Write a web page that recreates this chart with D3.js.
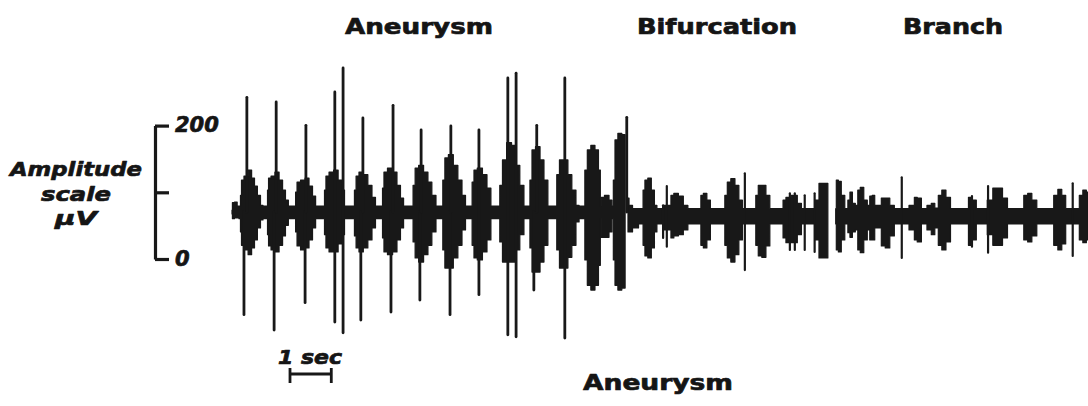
<!DOCTYPE html>
<html>
<head>
<meta charset="utf-8">
<script src="https://cdn.jsdelivr.net/npm/d3@7/dist/d3.min.js"></script>
<style>
  html, body { margin: 0; padding: 0; background: #ffffff; }
  svg { display: block; }
  text { font-family: "DejaVu Sans", sans-serif; font-weight: bold; fill: #151515;
         stroke: #151515; stroke-width: 0.7px; stroke-linejoin: round; }
</style>
</head>
<body>
<svg id="chart" width="1088" height="406"></svg>
<script>
// Recording site labels along the trace
const siteNames = ["Aneurysm", "Bifurcation", "Branch"];
const lowerSiteName = "Aneurysm";

// Envelope of the sound recording over each site: time (s), upper and lower excursion (µV)
const aneurysmTime  = [0.00,0.02,0.10,0.15,0.19, 0.22,0.24,0.34,0.44,0.51,0.58,0.65,0.73,0.77,
  0.85,0.87,0.90,0.99,1.09,1.19,1.26,1.33,1.40, 1.53,1.55,1.60,1.72,1.82,1.91,1.99,2.06,
  2.23,2.25,2.30,2.40,2.52,2.62,2.69,2.76, 2.95,2.98,3.03,3.12,3.24,3.34,3.44,3.51,
  3.63,3.66,3.70,3.83,3.95,4.04,4.12,4.19, 4.36,4.41,4.46,4.58,4.70,4.79,4.89,4.99,
  5.08,5.13,5.18,5.30,5.42,5.52,5.62,5.69, 5.79,5.84,5.88,6.00,6.13,6.22,6.32,
  6.46,6.51,6.59,6.71,6.83,6.92,7.02,7.12, 7.19,7.24,7.29,7.41,7.51,7.60,7.70,
  7.84,7.89,7.97,8.09,8.18,8.28,8.38,8.43, 8.52,8.57,8.64,8.74,8.84,8.91,8.93,
  8.96,9.08,9.18,9.22, 9.25,9.30,9.39,9.49,9.52];
const aneurysmUpper = [3,14,15,9,9, 25,48,54,63,51,39,25,10,9,
  9,33,51,54,60,48,33,18,9, 9,30,45,48,51,39,24,9,
  9,33,54,60,63,48,33,9, 9,33,54,60,56,40,22,9,
  9,36,60,66,60,40,21,9, 9,40,66,70,60,45,25,9,
  9,48,81,86,70,48,25,9, 9,45,63,66,56,36,9,
  9,40,78,104,100,70,40,9, 9,48,93,98,78,48,9,
  9,56,78,78,56,33,10,9, 9,63,93,100,93,63,9,
  22,25,18,9, 48,108,118,116,116];
const aneurysmLower = [-3,-10,-9,-9,-10, -30,-50,-57,-64,-54,-42,-24,-12,-10,
  -10,-34,-51,-57,-60,-50,-36,-20,-10, -10,-30,-51,-57,-54,-42,-24,-10,
  -10,-34,-54,-60,-60,-48,-34,-10, -10,-36,-54,-60,-54,-42,-24,-10,
  -10,-39,-60,-64,-60,-42,-24,-10, -10,-45,-69,-75,-64,-50,-30,-10,
  -10,-57,-84,-84,-69,-50,-27,-10, -10,-50,-69,-72,-60,-42,-10,
  -10,-45,-75,-75,-75,-57,-34,-10, -10,-54,-90,-90,-75,-50,-10,
  -10,-57,-84,-84,-68,-50,-15,-10, -10,-72,-110,-117,-110,-80,-10,
  -38,-38,-30,-10, -72,-110,-117,-114,-114];

const bifurcationTime  = [9.59,9.64,9.76,9.93, 9.98,10.02,10.12,10.19,10.27,10.31,
  10.61,10.65,10.75,10.87,10.99,11.09, 11.33,11.38,11.45,11.55,11.62,
  11.91,11.96,12.03,12.13,12.23,12.32,12.40, 12.66,12.71,12.78,12.88,12.98,13.07,
  13.32,13.37,13.46,13.63,13.75,13.83, 14.04,14.19,14.24,14.38,14.43];
const bifurcationUpper = [21,10,5,5, 33,48,51,33,10,5,
  10,25,28,24,10,5, 5,25,28,18,5,
  5,25,45,50,40,18,5, 5,25,40,40,25,5,
  5,18,22,25,13,5, 5,18,43,43,43];
const bifurcationLower = [-30,-30,-24,-18, -50,-66,-69,-54,-30,-18,
  -27,-39,-36,-34,-27,-18, -18,-50,-54,-42,-18,
  -18,-50,-69,-75,-64,-42,-18, -18,-50,-66,-68,-51,-18,
  -18,-39,-46,-46,-34,-18, -18,-42,-69,-69,-69];

const branchTime  = [14.62,14.65,14.72,14.79,14.89, 14.94,14.99,15.06,15.13,15.18,15.25,15.35,15.42,
  15.47,15.54,15.59,15.69,15.76,15.88,15.98,16.10, 16.30,16.49,16.56,16.63,16.76,
  16.90,16.97,17.07,17.14,17.24,17.34,17.46, 17.80,17.87,17.99,18.06,
  18.23,18.35,18.50,18.60,18.72,18.84, 19.13,19.22,19.32,19.42,19.56,
  19.85,19.95,20.05,20.14,20.24, 20.48,20.56,20.65,20.73];
const branchUpper = [5,48,46,25,5, 18,30,13,10,33,37,18,10,
  24,25,10,10,21,21,10,5, 5,10,22,21,5,
  10,13,6,25,33,22,5, 5,22,18,5,
  5,18,36,36,21,5, 5,25,28,18,5,
  5,25,34,25,5, 5,25,33,30];
const branchLower = [-18,-57,-60,-42,-18, -31,-38,-30,-27,-57,-61,-42,-27,
  -42,-42,-24,-24,-51,-54,-36,-18, -18,-27,-42,-45,-18,
  -27,-34,-24,-50,-57,-45,-18, -18,-50,-42,-18,
  -18,-34,-50,-50,-39,-18, -18,-42,-45,-36,-18,
  -18,-50,-57,-48,-18, -18,-42,-46,-42];

// Single sharp transients: time (s), upper and lower excursion (µV)
const spikeTime  = [0.29,0.36,1.02,1.07,1.77,1.79,2.49,2.69,3.12,3.17,3.85,3.90,4.55,4.58,
  5.28,5.30,5.98,6.68,6.88,7.31,7.38,8.06,9.56,
  10.44,10.53,12.42,13.51,13.63,13.87,14.11,
  16.22,17.92,18.31,20.36];
const spikeUpper = [0,172,0,165,0,130,180,216,0,141,0,160,0,123,
  0,129,123,201,208,0,130,201,142,
  10,39,58,28,28,25,28,
  52,24,39,43];
const spikeLower = [-154,0,-177,0,-136,0,-165,-181,-162,0,-150,0,-132,0,
  -154,0,-124,-184,-187,-117,0,-189,0,
  -39,-52,-87,-57,-57,-57,-60,
  -69,-52,-61,-66];

// Calibration marks
const ampTicks = [0, 100, 200];
const ampTickLabels = ["0", "", "200"];
const ampLabelLines = ["Amplitude", "scale", "µV"];
const timeBarSeconds = 1;
const timeBarLabel = "1 sec";

const svg = d3.select("#chart");
const ink = "#181818";

const x = d3.scaleLinear().domain([0, 20.73]).range([232, 1088]);
const pxPerUV = 0.667;
const yTrace = d3.scaleLinear().domain([-100, 100]).range([212 + 100 * pxPerUV, 212 - 100 * pxPerUV]);
const yAmp = d3.scaleLinear().domain([0, 200]).range([259, 259 - 200 * pxPerUV]);

// Trace envelopes: stepped, like a dense oscillograph record
const pieces = [
  [aneurysmTime, aneurysmUpper, aneurysmLower],
  [bifurcationTime, bifurcationUpper, bifurcationLower],
  [branchTime, branchUpper, branchLower]
];
const area = d3.area()
  .x(d => x(d.t))
  .y0(d => yTrace(d.lo))
  .y1(d => yTrace(d.hi))
  .curve(d3.curveStep);

svg.append("g").attr("class", "trace")
  .selectAll("path")
  .data(pieces.map(([t, hi, lo]) => t.map((v, i) => ({ t: v, hi: hi[i], lo: lo[i] }))))
  .join("path")
  .attr("d", area)
  .attr("fill", ink)
  .attr("stroke", ink)
  .attr("stroke-width", 1.2)
  .attr("stroke-linejoin", "round");

// Transients
svg.append("g").attr("class", "spikes")
  .selectAll("line")
  .data(spikeTime.map((t, i) => ({ t, hi: spikeUpper[i], lo: spikeLower[i] })))
  .join("line")
  .attr("x1", d => x(d.t)).attr("x2", d => x(d.t))
  .attr("y1", d => yTrace(d.lo)).attr("y2", d => yTrace(d.hi))
  .attr("stroke", ink)
  .attr("stroke-width", d => (d.t < 9.6 ? 2.8 : 2.2))
  .attr("stroke-linecap", "round");

// Site labels
const topLabelPos = [[345, 148], [637, 160], [903, 100]];
svg.append("g").selectAll("text")
  .data(siteNames)
  .join("text")
  .attr("x", (d, i) => topLabelPos[i][0])
  .attr("y", 34)
  .attr("font-size", 21)
  .attr("textLength", (d, i) => topLabelPos[i][1])
  .attr("lengthAdjust", "spacingAndGlyphs")
  .text(d => d);

svg.append("text")
  .attr("x", 583).attr("y", 390)
  .attr("font-size", 21)
  .attr("textLength", 150)
  .attr("lengthAdjust", "spacingAndGlyphs")
  .text(lowerSiteName);

// Amplitude calibration bar
const ampAxis = d3.axisRight(yAmp)
  .tickValues(ampTicks)
  .tickFormat((d, i) => ampTickLabels[i])
  .tickSize(14)
  .tickSizeOuter(0)
  .tickPadding(6);
const ampG = svg.append("g").attr("transform", "translate(155,0)").call(ampAxis);
ampG.select(".domain").attr("stroke", ink).attr("stroke-width", 3.2);
ampG.selectAll(".tick line").attr("stroke", ink).attr("stroke-width", 3.2);
ampG.selectAll(".tick text")
  .attr("fill", ink)
  .attr("font-family", "'DejaVu Sans', sans-serif")
  .attr("font-weight", "bold")
  .attr("font-style", "italic")
  .attr("font-size", 21)
  .attr("dy", "0.3em");

svg.append("g").selectAll("text")
  .data(ampLabelLines)
  .join("text")
  .attr("x", 76)
  .attr("y", (d, i) => [176, 201, 225][i])
  .attr("text-anchor", "middle")
  .attr("font-size", 20)
  .attr("font-style", "italic")
  .attr("textLength", (d, i) => [132, 70, 42][i])
  .attr("lengthAdjust", "spacingAndGlyphs")
  .text(d => d);

// Time calibration bar
const barX0 = x(0) + 58;
const barX1 = barX0 + (x(timeBarSeconds) - x(0));
const tb = svg.append("g").attr("stroke", ink).attr("stroke-width", 2.8);
tb.append("line").attr("x1", barX0).attr("x2", barX1).attr("y1", 374).attr("y2", 374);
tb.append("line").attr("x1", barX0).attr("x2", barX0).attr("y1", 368).attr("y2", 383);
tb.append("line").attr("x1", barX1).attr("x2", barX1).attr("y1", 368).attr("y2", 383);
svg.append("text")
  .attr("x", 278).attr("y", 364)
  .attr("font-size", 19)
  .attr("font-style", "italic")
  .attr("textLength", 64)
  .attr("lengthAdjust", "spacingAndGlyphs")
  .text(timeBarLabel);
</script>
</body>
</html>
